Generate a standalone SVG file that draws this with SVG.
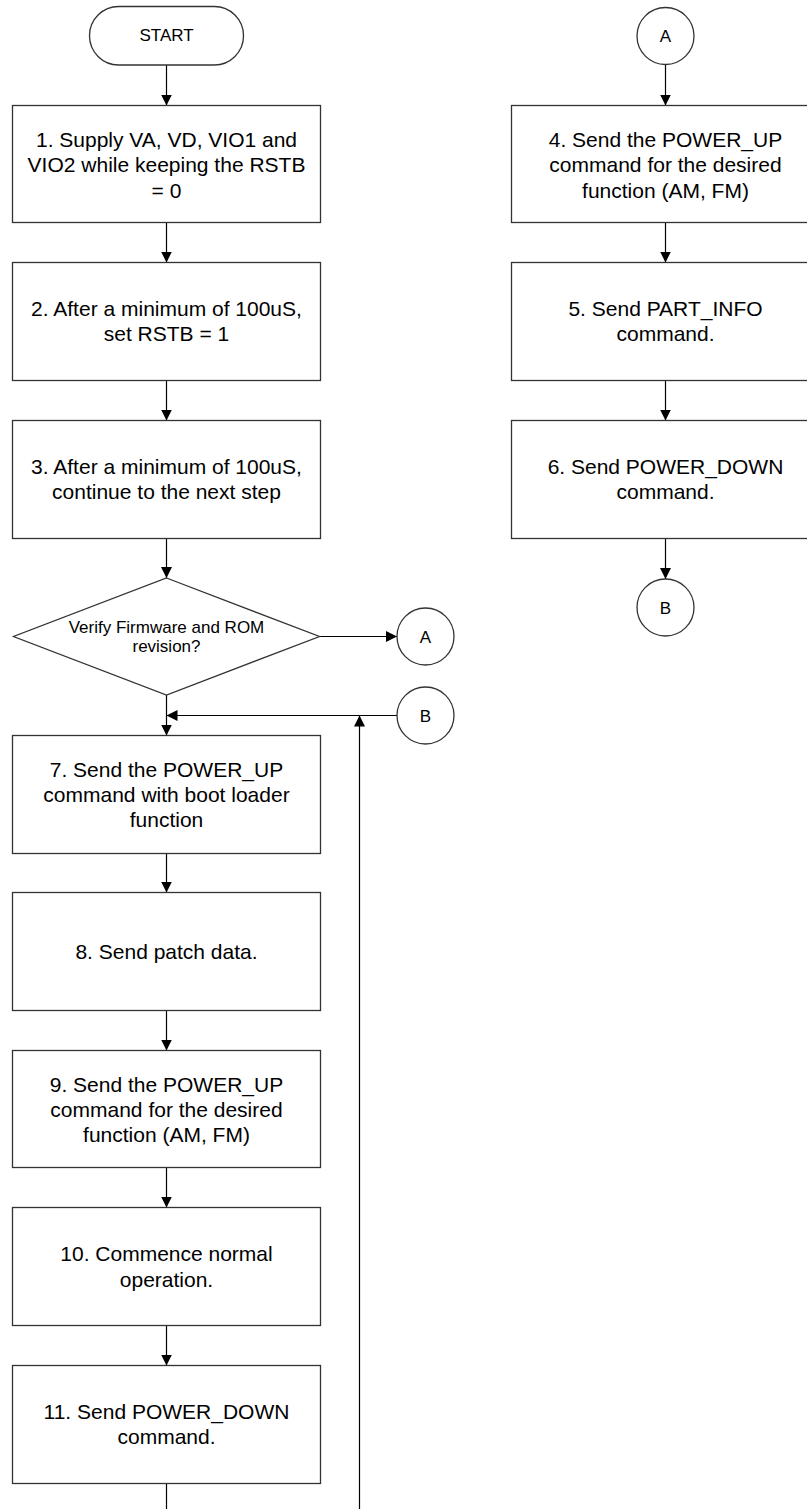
<svg xmlns="http://www.w3.org/2000/svg" width="807" height="1509" viewBox="0 0 807 1509">
<defs>
<marker id="arr" markerUnits="userSpaceOnUse" markerWidth="12" markerHeight="12" refX="11" refY="5.5" orient="auto">
<path d="M0,0 L11,5.5 L0,11 z" fill="#000"/>
</marker>
<style>
.box{fill:#fff;stroke:#333;stroke-width:1.3}
.t{font-family:"Liberation Sans",Arial,sans-serif;font-size:21px;fill:#000;text-anchor:middle}
.s{font-family:"Liberation Sans",Arial,sans-serif;font-size:17px;fill:#000;text-anchor:middle}
.c{fill:none;stroke:#000;stroke-width:1.2}
.a{fill:none;stroke:#000;stroke-width:1.2;marker-end:url(#arr)}
</style>
</defs>
<rect width="807" height="1509" fill="#fff"/>
<g id="connectors">
<line class="a" x1="166.5" y1="65" x2="166.5" y2="105.5"/>
<line class="a" x1="166.5" y1="222.5" x2="166.5" y2="262.5"/>
<line class="a" x1="166.5" y1="380.5" x2="166.5" y2="420.5"/>
<line class="a" x1="166.5" y1="538.5" x2="166.5" y2="578"/>
<line class="a" x1="319.5" y1="636.5" x2="397" y2="636.5"/>
<line class="a" x1="166.5" y1="695" x2="166.5" y2="735.5"/>
<line class="a" x1="397" y1="715.5" x2="166.5" y2="715.5"/>
<line class="a" x1="359.5" y1="1509" x2="359.5" y2="715.5"/>
<line class="a" x1="166.5" y1="853.5" x2="166.5" y2="892.5"/>
<line class="a" x1="166.5" y1="1010.5" x2="166.5" y2="1050.5"/>
<line class="a" x1="166.5" y1="1167.5" x2="166.5" y2="1207.5"/>
<line class="a" x1="166.5" y1="1325.5" x2="166.5" y2="1365.5"/>
<line class="c" x1="166.5" y1="1483.5" x2="166.5" y2="1509"/>
<line class="a" x1="665.5" y1="64.5" x2="665.5" y2="105.5"/>
<line class="a" x1="665.5" y1="222.5" x2="665.5" y2="262.5"/>
<line class="a" x1="665.5" y1="380.5" x2="665.5" y2="420.5"/>
<line class="a" x1="665.5" y1="538.5" x2="665.5" y2="579"/>
</g>
<g id="start">
<rect class="box" x="89.5" y="6.5" width="154" height="58.5" rx="29.2" ry="29.2"/>
<text class="s" x="166.5" y="41">START</text>
</g>
<g id="step1">
<rect class="box" x="12.5" y="105.5" width="308" height="117"/>
<text class="t" x="166.5" y="146.5">1. Supply VA, VD, VIO1 and</text>
<text class="t" x="166.5" y="172">VIO2 while keeping the RSTB</text>
<text class="t" x="166.5" y="197.5">= 0</text>
</g>
<g id="step2">
<rect class="box" x="12.5" y="262.5" width="308" height="118"/>
<text class="t" x="166.5" y="316">2. After a minimum of 100uS,</text>
<text class="t" x="166.5" y="340.5">set RSTB = 1</text>
</g>
<g id="step3">
<rect class="box" x="12.5" y="420.5" width="308" height="118"/>
<text class="t" x="166.5" y="474">3. After a minimum of 100uS,</text>
<text class="t" x="166.5" y="498.5">continue to the next step</text>
</g>
<g id="decision">
<polygon class="box" points="166.5,578 319.5,636.5 166.5,695 13.5,636.5"/>
<text class="s" x="166.5" y="633">Verify Firmware and ROM</text>
<text class="s" x="166.5" y="652">revision?</text>
</g>
<g id="connA1">
<circle class="box" cx="425.5" cy="636.5" r="28.5"/>
<text class="s" x="425.5" y="642.5">A</text>
</g>
<g id="connB1">
<circle class="box" cx="425.5" cy="715.5" r="28.5"/>
<text class="s" x="425.5" y="721.5">B</text>
</g>
<g id="step7">
<rect class="box" x="12.5" y="735.5" width="308" height="118"/>
<text class="t" x="166.5" y="777">7. Send the POWER_UP</text>
<text class="t" x="166.5" y="802">command with boot loader</text>
<text class="t" x="166.5" y="827">function</text>
</g>
<g id="step8">
<rect class="box" x="12.5" y="892.5" width="308" height="118"/>
<text class="t" x="166.5" y="958.5">8. Send patch data.</text>
</g>
<g id="step9">
<rect class="box" x="12.5" y="1050.5" width="308" height="117"/>
<text class="t" x="166.5" y="1091.5">9. Send the POWER_UP</text>
<text class="t" x="166.5" y="1116.5">command for the desired</text>
<text class="t" x="166.5" y="1141.5">function (AM, FM)</text>
</g>
<g id="step10">
<rect class="box" x="12.5" y="1207.5" width="308" height="118"/>
<text class="t" x="166.5" y="1261">10. Commence normal</text>
<text class="t" x="166.5" y="1286.5">operation.</text>
</g>
<g id="step11">
<rect class="box" x="12.5" y="1365.5" width="308" height="118"/>
<text class="t" x="166.5" y="1419">11. Send POWER_DOWN</text>
<text class="t" x="166.5" y="1444">command.</text>
</g>
<g id="connA2">
<circle class="box" cx="665.5" cy="36" r="28.5"/>
<text class="s" x="665.5" y="42">A</text>
</g>
<g id="step4">
<rect class="box" x="511.5" y="105.5" width="308" height="117"/>
<text class="t" x="665.5" y="146.5">4. Send the POWER_UP</text>
<text class="t" x="665.5" y="172">command for the desired</text>
<text class="t" x="665.5" y="197.5">function (AM, FM)</text>
</g>
<g id="step5">
<rect class="box" x="511.5" y="262.5" width="308" height="118"/>
<text class="t" x="665.5" y="316">5. Send PART_INFO</text>
<text class="t" x="665.5" y="340.5">command.</text>
</g>
<g id="step6">
<rect class="box" x="511.5" y="420.5" width="308" height="118"/>
<text class="t" x="665.5" y="474">6. Send POWER_DOWN</text>
<text class="t" x="665.5" y="498.5">command.</text>
</g>
<g id="connB2">
<circle class="box" cx="665.5" cy="607.5" r="28.5"/>
<text class="s" x="665.5" y="613.5">B</text>
</g>
</svg>
